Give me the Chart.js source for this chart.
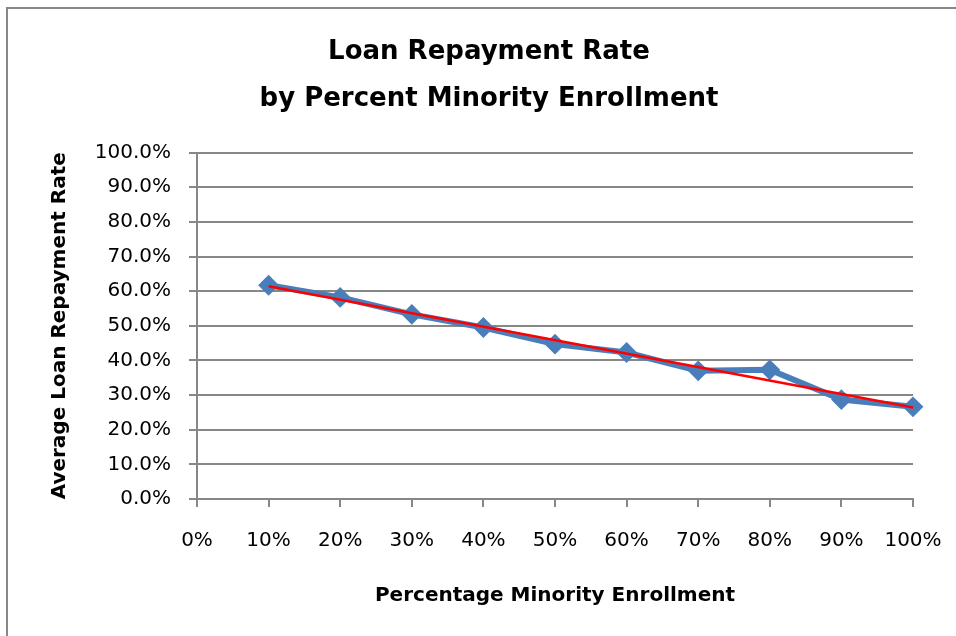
<!DOCTYPE html>
<html>
<head>
<meta charset="utf-8">
<script src="https://cdn.jsdelivr.net/npm/chart.js@4/dist/chart.umd.min.js"></script>
<style>
  html, body { margin: 0; padding: 0; background: #fff; }
  #wrap { position: relative; width: 956px; height: 636px; }
  #frame { position: absolute; left: 6px; top: 7px; right: 0; bottom: -10px;
           border-top: 2px solid #878787; border-left: 2px solid #878787; }
  canvas { position: absolute; left: 0; top: 0; }
</style>
</head>
<body>
<div id="wrap">
  <div id="frame"></div>
  <canvas id="chart" width="956" height="636"></canvas>
</div>
<script>
// minority enrollment (%) and average repayment rate (%)
const enrollment = [10, 20, 30, 40, 50, 60, 70, 80, 90, 100];
const repaymentRate = [61.7, 58.2, 53.3, 49.5, 44.7, 42.3, 37.0, 37.3, 28.7, 26.6];
// linear trendline, end points
const trendX = [10, 100];
const trendY = [61.4, 26.4];

const FONT = '"DejaVu Sans", "Liberation Sans", sans-serif';
const GRAY = '#878787';
const BLUE = '#4a7ebb';

const toPoints = (xs, ys) => xs.map((x, i) => ({ x: x, y: ys[i] }));

new Chart(document.getElementById('chart'), {
    type: 'line',
    data: {
        datasets: [
            {
                label: 'Linear trend',
                data: toPoints(trendX, trendY),
                borderColor: '#ff0000',
                borderWidth: 2.5,
                pointRadius: 0,
                clip: false,
                order: 0
            },
            {
                label: 'Average Loan Repayment Rate',
                data: toPoints(enrollment, repaymentRate),
                borderColor: BLUE,
                backgroundColor: BLUE,
                borderWidth: 6,
                pointStyle: 'rectRot',
                pointRadius: 9,
                pointBorderWidth: 2,
                pointBorderColor: BLUE,
                pointBackgroundColor: BLUE,
                clip: false,
                order: 1
            }
        ]
    },
    options: {
        responsive: false,
        animation: false,
        // left padding only shifts the chart title to the right, like the original
        layout: { padding: { left: 65, right: 43, top: 0, bottom: 0 } },
        plugins: {
            legend: { display: false },
            tooltip: { enabled: false },
            title: {
                display: true,
                text: ['Loan Repayment Rate', 'by Percent Minority Enrollment'],
                color: '#000',
                font: { family: FONT, size: 26, weight: 'bold', lineHeight: 1.8 },
                padding: { top: 29, bottom: 30 }
            }
        },
        scales: {
            x: {
                type: 'linear',
                min: 0,
                max: 100,
                afterFit: s => {
                    s.height = 137;
                    s.paddingLeft = 0;
                    s.paddingRight = 0;
                },
                ticks: {
                    stepSize: 10,
                    color: '#000',
                    font: { family: FONT, size: 20 },
                    padding: 22,
                    maxRotation: 0,
                    callback: v => v + '%'
                },
                grid: { drawOnChartArea: false, color: GRAY, lineWidth: 2, tickLength: 8 },
                border: { color: GRAY, width: 2 },
                title: {
                    display: true,
                    text: 'Percentage Minority Enrollment',
                    color: '#000',
                    font: { family: FONT, size: 20, weight: 'bold', lineHeight: 1.2 },
                    padding: { top: 0, bottom: 28 }
                }
            },
            y: {
                min: 0,
                max: 100,
                afterFit: s => {
                    s.width = 197 - 65;
                    s.paddingTop = 0;
                    s.paddingBottom = 0;
                },
                ticks: {
                    stepSize: 10,
                    color: '#000',
                    font: { family: FONT, size: 20 },
                    padding: 18,
                    callback: v => v.toFixed(1) + '%'
                },
                grid: { color: GRAY, lineWidth: 2, tickLength: 8 },
                border: { color: GRAY, width: 2 },
                title: {
                    display: true,
                    text: 'Average Loan Repayment Rate',
                    color: '#000',
                    font: { family: FONT, size: 20, weight: 'bold', lineHeight: 1.2 },
                    padding: { top: -17, bottom: 0 }
                }
            }
        }
    }
});
</script>
</body>
</html>
